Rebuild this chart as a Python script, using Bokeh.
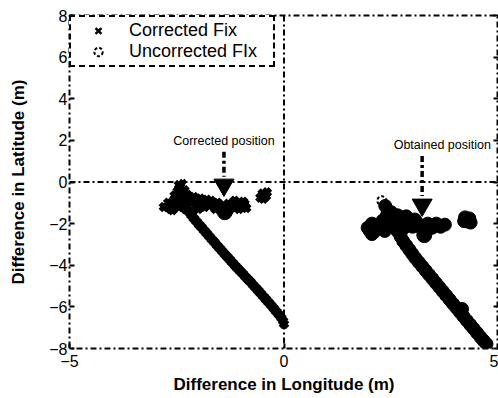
from bokeh.plotting import figure
from bokeh.models import LinearAxis, Span, Range1d, FixedTicker, Legend
from bokeh.core.properties import value
from bokeh.embed import file_html
from bokeh.resources import INLINE

# ---------------- data ----------------
x_ticks = [-5, 0, 5]
y_ticks = [-8, -6, -4, -2, 0, 2, 4, 6, 8]
ref_x = 0
ref_y = 0

# Corrected fix (x markers)
corr_lon = [
    -2.22, -2.16, -2.10, -2.04, -1.98, -1.92, -1.86, -1.80, -1.74, -1.68,
    -1.62, -1.56, -1.50, -1.44, -1.38, -1.32, -1.26, -1.20, -1.14, -1.08,
    -1.02, -0.96, -0.90, -0.84, -0.78, -0.72, -0.66, -0.60, -0.54, -0.48,
    -0.42, -0.36, -0.30, -0.24, -0.18, -0.12, -0.06, -0.02, 0.00,
    -2.42, -2.48, -2.32, -2.55, -2.40, -2.25, -2.10, -1.95, -1.80,
    -2.70, -2.80, -2.65, -2.55, -2.45, -2.35, -2.25, -2.15, -2.05, -1.95,
    -1.85, -1.75, -1.65, -1.55, -1.45, -1.30, -1.20, -1.10, -1.00, -0.92,
    -0.88, -1.70, -1.15, -2.60, -2.30, -2.00, -1.60, -1.25, -1.05,
    -2.60, -2.50, -2.20, -2.00, -1.85, -1.50, -1.35, -0.95, -2.45,
    -0.50, -0.42, -0.55, -0.40, -0.48,
]
corr_lat = [
    -1.43, -1.60, -1.75, -1.90, -2.05, -2.18, -2.33, -2.47, -2.62, -2.76,
    -2.90, -3.05, -3.18, -3.33, -3.47, -3.60, -3.74, -3.88, -4.02, -4.15,
    -4.28, -4.41, -4.55, -4.68, -4.80, -4.95, -5.08, -5.22, -5.36, -5.50,
    -5.64, -5.78, -5.92, -6.07, -6.22, -6.37, -6.53, -6.68, -6.82,
    -0.25, -0.45, -0.40, -0.65, -0.70, -0.62, -0.72, -0.80, -0.85,
    -1.00, -1.20, -1.30, -1.05, -1.20, -0.95, -1.15, -1.00, -1.20, -1.05,
    -1.20, -1.05, -1.15, -1.00, -1.20, -1.05, -1.20, -1.05, -1.15, -1.05,
    -1.25, -0.90, -0.90, -1.35, -1.30, -1.30, -1.30, -1.28, -1.30,
    -1.15, -0.90, -0.85, -0.95, -0.95, -1.10, -1.25, -0.95, -0.15,
    -0.55, -0.68, -0.75, -0.50, -0.80,
]
corr_tip_lon = [-2.36]
corr_tip_lat = [0.00]

# Uncorrected fix (circle markers)
unc_lon = [
    2.36, 2.42, 2.48, 2.54, 2.60, 2.66, 2.72, 2.78, 2.85,
    2.92, 2.99, 3.06, 3.14, 3.22, 3.30, 3.38, 3.46, 3.54, 3.62,
    3.70, 3.78, 3.86, 3.94, 4.02, 4.10, 4.15, 4.18, 4.26, 4.34,
    4.42, 4.50, 4.58, 4.65, 4.72,
    1.95, 2.05, 2.10, 2.20, 2.30, 2.35, 2.45, 2.55, 2.60, 2.70,
    2.80, 2.90, 3.00, 3.10, 3.20, 3.35, 3.45, 3.55, 3.65, 3.75,
    2.50, 2.65, 2.40, 2.75, 2.00, 2.10, 2.05, 2.85, 3.05,
    4.22, 4.32, 4.28, 4.20, 4.35,
]
unc_lat = [
    -1.15, -1.40, -1.65, -1.90, -2.15, -2.40, -2.62, -2.85, -3.05,
    -3.25, -3.45, -3.65, -3.85, -4.05, -4.25, -4.45, -4.65, -4.85, -5.05,
    -5.25, -5.45, -5.65, -5.85, -6.05, -6.25, -6.10, -6.45, -6.65, -6.85,
    -7.05, -7.25, -7.45, -7.62, -7.78,
    -2.20, -2.00, -2.40, -2.15, -1.85, -2.35, -2.05, -1.75, -2.25, -1.95,
    -2.20, -1.90, -2.15, -1.95, -2.20, -2.00, -2.20, -2.00, -2.15, -2.05,
    -1.45, -1.60, -1.60, -1.70, -2.35, -2.05, -2.50, -1.65, -1.80,
    -1.70, -1.75, -1.90, -1.88, -1.95,
]
unc_tip_lon = [2.28]
unc_tip_lat = [-0.90]

# position markers (arrow heads) and labels
head_lon = [-1.40, 3.22]
head_lat = [-0.14, -1.10]
knob_lon = [-1.38, 3.27]
knob_lat = [-1.45, -2.55]
arrow_lon = [-1.40, 3.22]
arrow_top = [1.45, 1.25]
arrow_bottom = [0.25, -0.67]
label_lon = [-1.40, 3.69]
label_lat = [1.95, 1.78]
label_text = ["Corrected position", "Obtained position"]

FONT = "Liberation Sans"
DASHDOT = "6 3 2 3"

p = figure(width=498, height=398, x_range=Range1d(-5, 5), y_range=Range1d(-8, 8),
           output_backend="svg", toolbar_location=None,
           min_border_left=69, min_border_right=0, min_border_top=15, min_border_bottom=50)
p.xgrid.visible = False
p.ygrid.visible = False
p.outline_line_color = "black"
p.outline_line_width = 2
p.outline_line_dash = DASHDOT
p.background_fill_color = "white"

for ax in (p.xaxis[0], p.yaxis[0]):
    ax.axis_line_color = None
    ax.major_tick_in = 5
    ax.major_tick_out = 0
    ax.major_tick_line_width = 2
    ax.minor_tick_line_color = None
    ax.major_label_text_font = FONT
    ax.major_label_text_font_size = "16px"
    ax.major_label_text_color = "black"
    ax.axis_label_text_font = FONT
    ax.axis_label_text_font_size = "17px"
    ax.axis_label_text_font_style = "bold"
    ax.axis_label_text_color = "black"

p.xaxis.ticker = FixedTicker(ticks=x_ticks)
p.yaxis.ticker = FixedTicker(ticks=y_ticks)
p.xaxis.axis_label = "Difference in Longitude (m)"
p.yaxis.axis_label = "Difference in Latitude (m)"
p.xaxis.major_label_standoff = 6
p.yaxis.major_label_standoff = 2
p.xaxis.axis_label_standoff = 5
p.yaxis.axis_label_standoff = 18

rax = LinearAxis(ticker=FixedTicker(ticks=y_ticks), axis_line_color=None,
                 major_tick_in=5, major_tick_out=0, major_tick_line_width=2,
                 minor_tick_line_color=None, major_label_text_font_size="0px",
                 major_label_standoff=0)
p.add_layout(rax, "right")

p.add_layout(Span(location=ref_x, dimension="height", line_color="black",
                  line_width=2, line_dash=DASHDOT))
p.add_layout(Span(location=ref_y, dimension="width", line_color="black",
                  line_width=2, line_dash=DASHDOT))

# data
p.scatter(x=unc_lon, y=unc_lat, marker="circle", size=13, fill_color="black",
          line_color="black", line_width=1)
r_u = p.scatter(x=unc_tip_lon, y=unc_tip_lat, marker="circle", size=9, fill_color=None,
                line_color="black", line_width=2, line_dash="3 2")
p.scatter(x=corr_lon, y=corr_lat, marker="x", size=10, line_color="black", line_width=5)
r_c = p.scatter(x=corr_tip_lon, y=corr_tip_lat, marker="x", size=7,
                line_color="black", line_width=2.5)

# arrows
p.segment(x0=arrow_lon, y0=arrow_top, x1=arrow_lon, y1=arrow_bottom,
          line_color="black", line_width=3.5, line_dash="6 3 3 3")
p.scatter(x=head_lon, y=head_lat, marker="inverted_triangle", size=20,
          fill_color="black", line_color="black")
p.scatter(x=knob_lon, y=knob_lat, marker="circle", size=15,
          fill_color="black", line_color="black")
p.text(x=label_lon, y=label_lat, text=label_text, text_font=value(FONT),
       text_font_size="12.5px", text_align="center", text_baseline="middle",
       text_color="black")

legend = Legend(items=[("Corrected Fix", [r_c]), ("Uncorrected FIx", [r_u])],
                location="top_left", margin=0, padding=3, spacing=0,
                glyph_width=48, glyph_height=21, label_height=21, label_width=141,
                label_standoff=7, label_text_font=FONT, label_text_font_size="18px",
                label_text_color="black",
                border_line_color="black", border_line_width=2, border_line_alpha=1,
                border_line_dash=DASHDOT,
                background_fill_color="white", background_fill_alpha=1)
p.add_layout(legend)

open("out.html", "w").write(file_html(p, INLINE))
